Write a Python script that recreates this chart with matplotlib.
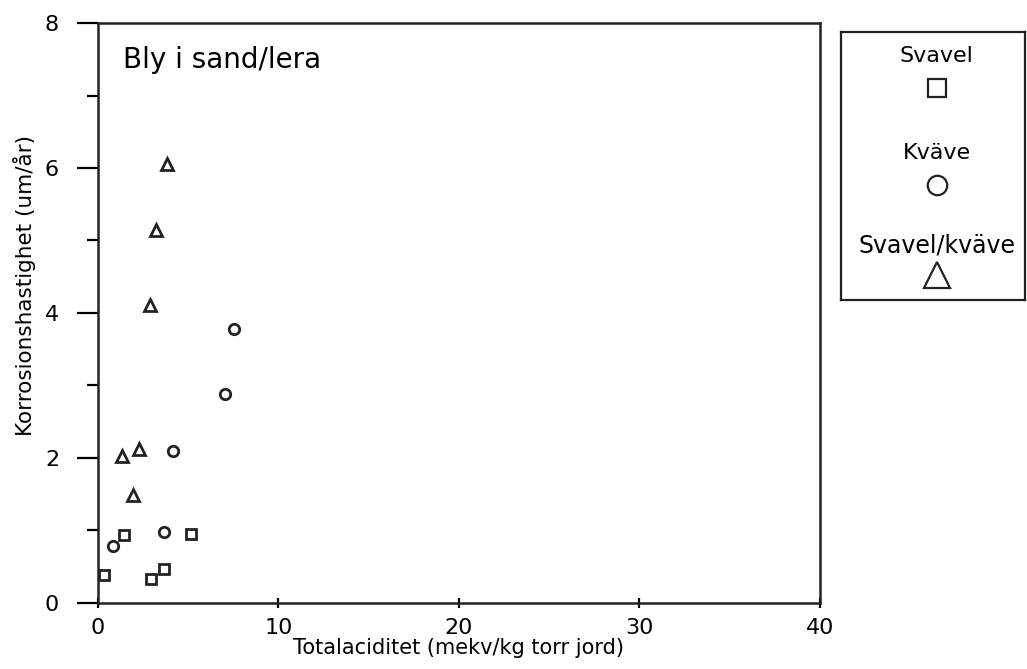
import matplotlib.pyplot as plt
from matplotlib.ticker import MultipleLocator

# Svavel (squares)
svavel_x = [0.35, 1.46, 2.92, 3.66, 5.13]
svavel_y = [0.39, 0.94, 0.33, 0.47, 0.95]
# Kväve (circles)
kvave_x = [0.85, 3.66, 4.14, 7.04, 7.55]
kvave_y = [0.79, 0.98, 2.09, 2.88, 3.78]
# Svavel/kväve (triangles)
sk_x = [1.35, 1.96, 2.29, 2.88, 3.2, 3.8]
sk_y = [2.03, 1.49, 2.12, 4.11, 5.15, 6.06]

legend_labels = ["Svavel", "Kväve", "Svavel/kväve"]
legend_markers = ["s", "o", "^"]

fs = 15
plt.rcParams['font.family'] = 'DejaVu Sans'

fig = plt.figure(figsize=(10.27, 6.69), dpi=100)
ax = fig.add_axes([0.0954, 0.0987, 0.703, 0.8669])

mk = dict(linestyle='none', markerfacecolor='none', markeredgecolor='#222222',
          markeredgewidth=2, clip_on=False)
ax.plot(svavel_x, svavel_y, marker='s', markersize=7, **mk)
ax.plot(kvave_x, kvave_y, marker='o', markersize=7.5, **mk)
ax.plot(sk_x, sk_y, marker='^', markersize=8.5, **mk)

ax.set_xlim(0, 40)
ax.set_ylim(0, 8)
ax.set_xticks([0, 10, 20, 30, 40])
ax.set_yticks([0, 2, 4, 6, 8])
ax.yaxis.set_minor_locator(MultipleLocator(1))
ax.tick_params(axis='x', direction='inout', length=7, width=1.6, labelsize=16, pad=7)
ax.tick_params(axis='y', which='major', direction='out', length=15, width=1.6, labelsize=16, pad=13)
ax.tick_params(axis='y', which='minor', direction='out', length=8, width=1.6)
for s in ax.spines.values():
    s.set_linewidth(1.8)
    s.set_color('#222222')

ax.set_xlabel("Totalaciditet (mekv/kg torr jord)", fontsize=fs, labelpad=0)
ax.set_ylabel("Korrosionshastighet (um/år)", fontsize=15.5)
ax.yaxis.set_label_coords(-0.086, 0.547)
ax.text(0.034, 0.937, "Bly i sand/lera", transform=ax.transAxes, fontsize=20,
        va='center', ha='left')

# legend box
lax = fig.add_axes([0.819, 0.5516, 0.179, 0.4006])
lax.set_xlim(0, 1)
lax.set_ylim(0, 1)
lax.set_xticks([])
lax.set_yticks([])
for s in lax.spines.values():
    s.set_linewidth(1.6)
    s.set_color('#222222')
text_y = [0.912, 0.55, 0.205]
mark_y = [0.79, 0.43, 0.095]
msizes = [13, 14, 19]
tsizes = [16, 16, 17]
for lab, m, ty, my, ms, ts in zip(legend_labels, legend_markers, text_y, mark_y, msizes, tsizes):
    lax.text(0.52, ty, lab, fontsize=ts, ha='center', va='center')
    lax.plot([0.52], [my], marker=m, markersize=ms, linestyle='none',
             markerfacecolor='none', markeredgecolor='#222222', markeredgewidth=1.6)

fig.savefig("out.png", dpi=100)
